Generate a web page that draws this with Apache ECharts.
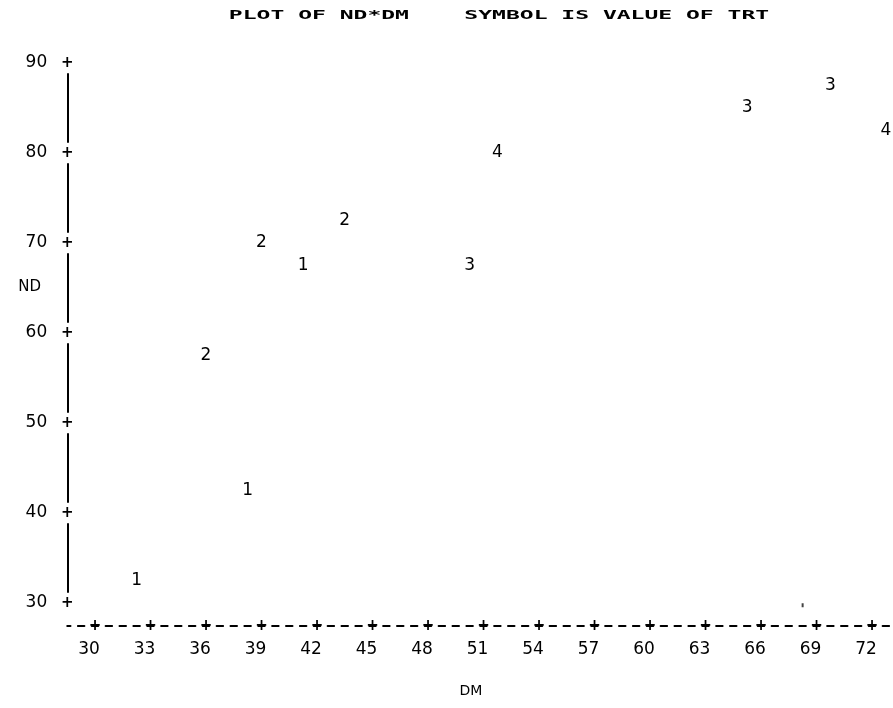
<!DOCTYPE html>
<html>
<head>
<meta charset="utf-8">
<script src="https://cdn.jsdelivr.net/npm/echarts@6/dist/echarts.min.js"></script>
<style>
  html, body { margin: 0; padding: 0; background: #fff; }
  #chart { width: 893px; height: 708px; }
</style>
</head>
<body>
<div id="chart"></div>
<script>
// Printer-style plot of ND against DM, each point drawn as its TRT value
const TITLE = 'PLOT OF ND*DM    SYMBOL IS VALUE OF TRT';
const Y_NAME = 'ND';
const X_NAME = 'DM';

const dmTicks = [30, 33, 36, 39, 42, 45, 48, 51, 54, 57, 60, 63, 66, 69, 72];
const ndTicks = [30, 40, 50, 60, 70, 80, 90];

// observations
const dm  = [32.25, 38.25, 41.25, 36.0, 39.0, 43.5, 50.25, 65.25, 69.75, 51.75, 72.75];
const nd  = [32.5,  42.5,  67.5,  57.5, 70.0, 72.5, 67.5,  85.0,  87.5,  80.0,  82.5];
const trt = [1,     1,     1,     2,    2,    2,    3,     3,     3,     4,     4];

// faint mark near the bottom row
const fadedDM = [68.25];
const fadedND = [29.75];

const points = dm.map((d, i) => [d, nd[i], trt[i]]);
const faded = fadedDM.map((d, i) => [d, fadedND[i]]);

const FONT = 'DejaVu Sans';
const MONO = 'DejaVu Sans Mono';

const chart = echarts.init(document.getElementById('chart'), null, { renderer: 'canvas' });

chart.setOption({
  animation: false,
  backgroundColor: '#ffffff',
  graphic: [
    {
      type: 'text',
      x: 499,
      y: 16,
      scaleX: 1.77,
      silent: true,
      style: {
        text: TITLE,
        font: 'bold 13px "' + MONO + '"',
        fill: '#000',
        textAlign: 'center',
        textVerticalAlign: 'middle'
      }
    },
    {
      type: 'text',
      x: 41,
      y: 287,
      silent: true,
      style: {
        text: Y_NAME,
        font: '15px "' + FONT + '"',
        fill: '#000',
        textAlign: 'right',
        textVerticalAlign: 'middle'
      }
    }
  ],
  grid: {
    left: 67.25,
    right: 2.5,
    top: 63,
    bottom: 105,
    containLabel: false,
    outerBoundsMode: 'none'
  },
  xAxis: {
    type: 'value',
    min: 28.5,
    max: 73,
    offset: 23,
    name: X_NAME,
    nameLocation: 'middle',
    nameGap: 58,
    nameMoveOverlap: false,
    nameTextStyle: { color: '#000', fontFamily: FONT, fontSize: 14, padding: [0, 16, 0, 0] },
    axisLine: {
      show: true,
      lineStyle: { color: '#000', width: 2, type: [6.5, 7.375], dashOffset: 3.25 }
    },
    axisTick: { show: false },
    splitLine: { show: false },
    axisLabel: {
      show: true,
      customValues: dmTicks,
      margin: -7,
      color: '#000',
      formatter: v => '{p|+}\n{n|' + v + '}',
      rich: {
        p: { fontSize: 15, fontWeight: 'bold', lineHeight: 14, fontFamily: FONT, color: '#000' },
        n: { fontSize: 17, lineHeight: 34, fontFamily: FONT, color: '#000', padding: [0, 12, 0, 0] }
      }
    }
  },
  yAxis: {
    type: 'value',
    min: 30,
    max: 90,
    interval: 10,
    axisLine: {
      show: true,
      lineStyle: { color: '#000', width: 2, type: [68, 22], dashOffset: 79 }
    },
    axisTick: { show: false },
    splitLine: { show: false },
    axisLabel: {
      show: true,
      customValues: ndTicks,
      margin: -7,
      color: '#000',
      formatter: v => '{n|' + v + '}{p|+}',
      rich: {
        n: { fontSize: 17, fontFamily: FONT, color: '#000', padding: [0, 13, 0, 0] },
        p: { fontSize: 15, fontWeight: 'bold', fontFamily: FONT, color: '#000', width: 14, align: 'center' }
      }
    }
  },
  series: [
    {
      name: 'TRT',
      type: 'scatter',
      data: points,
      symbol: 'circle',
      symbolSize: 1,
      clip: false,
      silent: true,
      itemStyle: { color: 'rgba(0,0,0,0)', opacity: 1 },
      emphasis: { disabled: true },
      label: {
        show: true,
        position: 'inside',
        formatter: p => String(p.data[2]),
        color: '#000',
        opacity: 1,
        textBorderWidth: 0,
        fontSize: 17,
        fontFamily: FONT
      }
    },
    {
      name: 'faded',
      type: 'scatter',
      data: faded,
      symbol: 'rect',
      symbolSize: [2, 4],
      clip: false,
      silent: true,
      itemStyle: { color: '#444', opacity: 1 },
      emphasis: { disabled: true }
    }
  ]
});
</script>
</body>
</html>
